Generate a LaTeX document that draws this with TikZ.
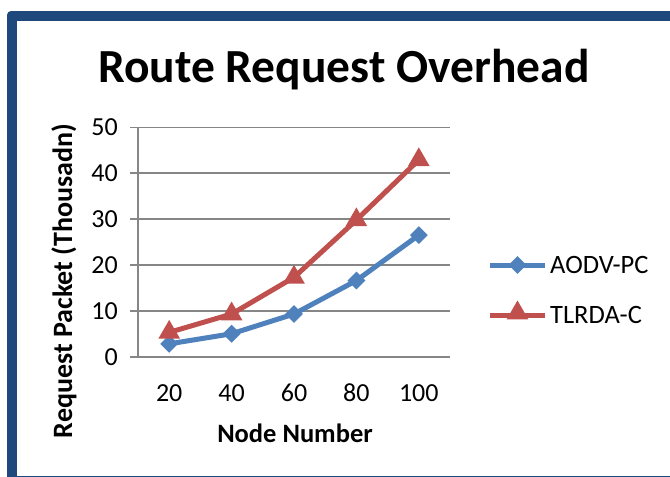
\documentclass[tikz,border=0pt]{standalone}
\usepackage{fontspec}
\setmainfont{Carlito}
\usetikzlibrary{shapes.geometric}
\definecolor{frameblue}{RGB}{31,73,125}
\definecolor{gridgray}{RGB}{134,134,134}
\definecolor{serblue}{RGB}{79,129,189}
\definecolor{serred}{RGB}{192,80,77}
\tikzset{
  grid line/.style={draw=gridgray, line width=1.6pt},
  ticklab/.style={font=\fontsize{26}{30}\selectfont, inner sep=0pt},
  axlab/.style={font=\fontsize{26.5}{30}\selectfont\bfseries, inner sep=0pt},
  legtext/.style={font=\fontsize{26.5}{30}\selectfont, inner sep=0pt, anchor=base west},
  blueline/.style={draw=serblue, line width=5pt, line join=round},
  redline/.style={draw=serred, line width=5pt, line join=round},
  bluemark/.style={diamond, fill=serblue, minimum width=18pt, minimum height=18pt, inner sep=0pt},
  redmark/.style={regular polygon, regular polygon sides=3, fill=serred, minimum size=25pt, inner sep=0pt},
}
\begin{document}
\begin{tikzpicture}[x=1pt,y=-1pt]
\useasboundingbox (0,0) rectangle (670,477);
\clip (0,0) rectangle (670,477);
% frame
\fill[frameblue, rounded corners=4pt] (7,11) rectangle (700,500);
\fill[white] (17,21) rectangle (700,475.5);
% title
\node[font=\fontsize{47.5}{56}\selectfont\bfseries, inner sep=0pt, anchor=base] (title) at (344,82) {Route Request Overhead};
% grid
\foreach \v/\lab in {0/0,10/10,20/20,30/30,40/40,50/50}{
  \coordinate (gl\v) at (130,{356.7-\v*4.588});
  \coordinate (gr\v) at (450,{356.7-\v*4.588});
  \draw[grid line] (gl\v) -- (gr\v);
  \node[ticklab, anchor=east] (yt\v) at (118,{356.7-\v*4.588}) {\lab};
}
\coordinate (axtop) at (138,{356.7-50*4.588});
\coordinate (axbot) at (138,356.7);
\draw[grid line] (axtop) -- (axbot);
% x labels
\foreach \i/\lab in {0/20,1/40,2/60,3/80,4/100}{
  \node[ticklab, anchor=base] (xt\i) at ({169.2+\i*62.4},401) {\lab};
}
\node[axlab, anchor=base] (xlab) at (295,442) {Node Number};
\node[axlab, rotate=90, anchor=center, font=\fontsize{28}{32}\selectfont\bfseries] (ylab) at (64,281) {Request Packet (Thousadn)};
% data
\foreach \i/\v in {0/2.8,1/5.0,2/9.3,3/16.6,4/26.5}{
  \coordinate (a\i) at ({169.2+\i*62.4},{356.7-\v*4.588});
}
\foreach \i/\v in {0/5.3,1/9.3,2/17.3,3/29.8,4/42.9}{
  \coordinate (t\i) at ({169.2+\i*62.4},{356.7-\v*4.588});
}
\draw[blueline] (a0) -- (a1) -- (a2) -- (a3) -- (a4);
\draw[redline] (t0) -- (t1) -- (t2) -- (t3) -- (t4);
\foreach \i in {0,...,4}{
  \node[bluemark] (am\i) at (a\i) {};
}
\foreach \i in {0,...,4}{
  \node[redmark] (tm\i) at (t\i) {};
}
% legend
\coordinate (l1a) at (490,265);
\coordinate (l1b) at (545,265);
\coordinate (l2a) at (490,315);
\coordinate (l2b) at (545,315);
\draw[blueline] (l1a) -- (l1b);
\node[bluemark] (lm1) at (517.5,265) {};
\draw[redline] (l2a) -- (l2b);
\node[redmark] (lm2) at (517.5,313) {};
\node[legtext] (leg1) at (550,273) {AODV-PC};
\node[legtext] (leg2) at (550,323) {TLRDA-C};
\end{tikzpicture}
\end{document}
